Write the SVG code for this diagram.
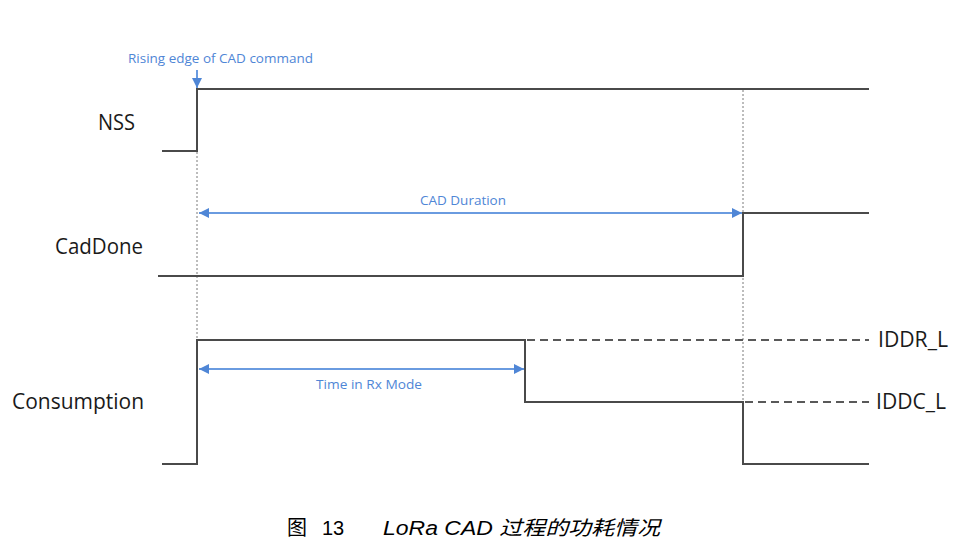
<svg xmlns="http://www.w3.org/2000/svg" width="961" height="547" viewBox="0 0 961 547">
<style>
.sig{fill:none;stroke:#4a4a4a;stroke-width:2}
.dash{fill:none;stroke:#595959;stroke-width:2;stroke-dasharray:8,5}
.dot{fill:none;stroke:#7a7a7a;stroke-width:1;stroke-dasharray:2,2}
.blue{fill:none;stroke:#6a9be0;stroke-width:2}
.lbl{font-family:"Open Sans","Noto Sans",sans-serif;font-size:21px;fill:#1a1a1a}
.btxt{font-family:"Open Sans","Noto Sans",sans-serif;font-size:13.5px;fill:#4f86d6}
.cap{font-family:"Liberation Sans","Noto Sans CJK SC",sans-serif;font-size:20px;fill:#000}
</style>
<defs>
<marker id="ah" viewBox="0 0 10 10" refX="10" refY="5" markerWidth="5" markerHeight="5" orient="auto-start-reverse" markerUnits="strokeWidth">
<path d="M0,0L10,5L0,10z" fill="#4f86d6"/>
</marker>
</defs>
<rect width="961" height="547" fill="#fff"/>
<g id="connectors">
<line class="dot" x1="197" y1="152" x2="197" y2="340"/>
<line class="dot" x1="743" y1="90" x2="743" y2="464"/>
<line class="blue" x1="197" y1="70" x2="197" y2="88" marker-end="url(#ah)"/>
<line class="blue" x1="199" y1="213" x2="742" y2="213" marker-start="url(#ah)" marker-end="url(#ah)"/>
<line class="blue" x1="199" y1="369" x2="524" y2="369" marker-start="url(#ah)" marker-end="url(#ah)"/>
</g>
<g id="nss">
<polyline class="sig" points="162,151 197,151 197,89 869,89"/>
<text class="lbl" x="98" y="130" textLength="37" lengthAdjust="spacingAndGlyphs">NSS</text>
</g>
<g id="caddone">
<polyline class="sig" points="158,276 743,276 743,213 869,213"/>
<text class="lbl" x="55" y="254" textLength="88" lengthAdjust="spacingAndGlyphs">CadDone</text>
</g>
<g id="consumption">
<polyline class="sig" points="162,464 197,464 197,340 525,340 525,402 743,402 743,464 869,464"/>
<line class="dash" x1="527" y1="340" x2="869" y2="340"/>
<line class="dash" x1="745" y1="402" x2="869" y2="402"/>
<text class="lbl" x="12" y="409" textLength="132" lengthAdjust="spacingAndGlyphs">Consumption</text>
<text class="lbl" x="878" y="347" textLength="70" lengthAdjust="spacingAndGlyphs">IDDR_L</text>
<text class="lbl" x="876" y="409" textLength="70" lengthAdjust="spacingAndGlyphs">IDDC_L</text>
</g>
<g id="annotations">
<text class="btxt" x="128" y="63" textLength="185" lengthAdjust="spacingAndGlyphs">Rising edge of CAD command</text>
<text class="btxt" x="420" y="205" textLength="86" lengthAdjust="spacingAndGlyphs">CAD Duration</text>
<text class="btxt" x="316" y="389" textLength="106" lengthAdjust="spacingAndGlyphs">Time in Rx Mode</text>
</g>
<g id="caption">
<text class="cap" x="287" y="535">图</text>
<text class="cap" x="322" y="535">13</text>
<text class="cap" x="383" y="535" font-style="italic" textLength="277" lengthAdjust="spacingAndGlyphs">LoRa CAD 过程的功耗情况</text>
</g>
</svg>
